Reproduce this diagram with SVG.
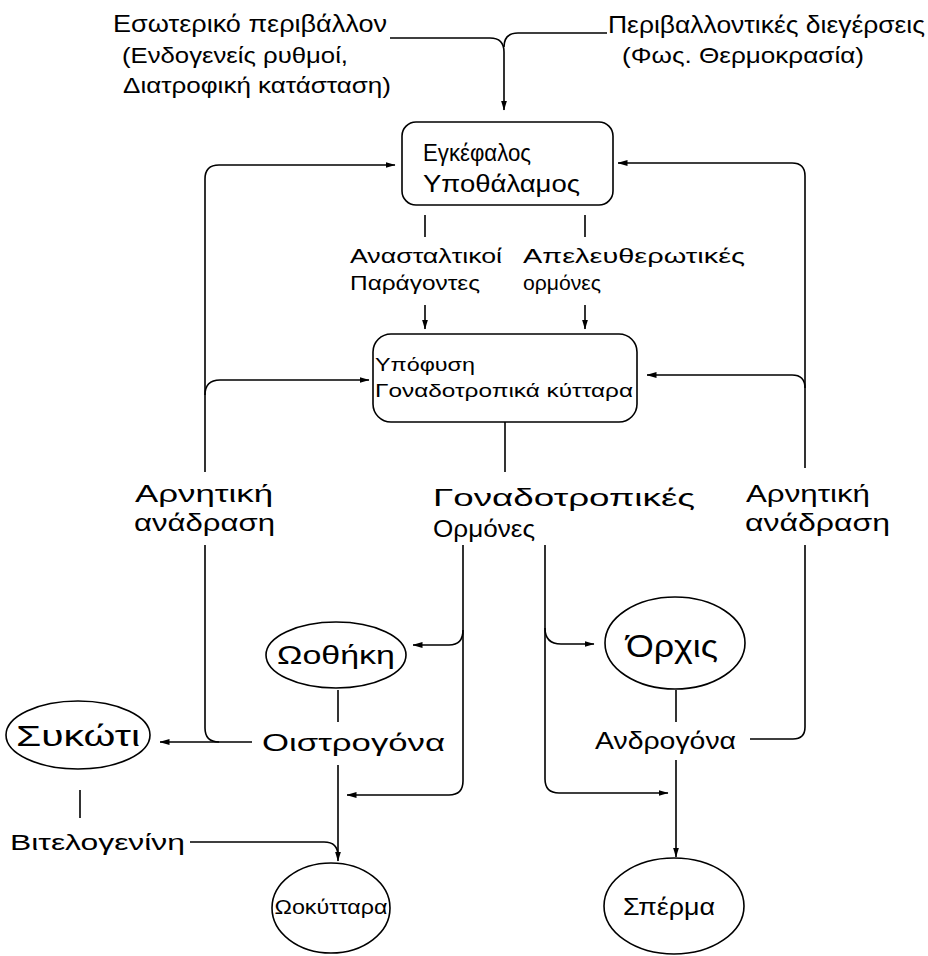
<svg xmlns="http://www.w3.org/2000/svg" width="928" height="956" viewBox="0 0 928 956">
<style>
text{font-family:"Liberation Sans","DejaVu Sans",sans-serif;fill:#000}
.t24{font-size:24px}
.t22{font-size:22px}
.t20{font-size:20px}
.t19{font-size:19px}
.node{fill:#fff;stroke:#000;stroke-width:1.6}
.c{fill:none;stroke:#000;stroke-width:1.6}
</style>
<defs>
<marker id="ah" markerWidth="10" markerHeight="8" refX="9.5" refY="4" orient="auto" markerUnits="userSpaceOnUse"><path d="M0,1 L10,4 L0,7 z" fill="#000"/></marker>
</defs>
<g id="connectors">
<path class="c" d="M390,38 L490,38 Q504,38 504,52 L504,110" marker-end="url(#ah)"/>
<path class="c" d="M607,33 L518,33 Q504,33 504,47"/>
<path class="c" d="M205,472 L205,179 Q205,165 219,165 L395,165" marker-end="url(#ah)"/>
<path class="c" d="M205,395 Q205,380 220,380 L369,380" marker-end="url(#ah)"/>
<path class="c" d="M205,545 L205,728 Q205,742 219,742"/>
<path class="c" d="M252,742 L160,742" marker-end="url(#ah)"/>
<path class="c" d="M805,468 L805,176 Q805,163 792,163 L618,163" marker-end="url(#ah)"/>
<path class="c" d="M805,388 Q805,375 792,375 L647,375" marker-end="url(#ah)"/>
<path class="c" d="M750,739 L793,739 Q805,739 805,727 L805,545"/>
<path class="c" d="M425,215 L425,237 M585,215 L585,237"/>
<path class="c" d="M425,305 L425,329" marker-end="url(#ah)"/>
<path class="c" d="M585,305 L585,329" marker-end="url(#ah)"/>
<path class="c" d="M505,422 L505,472"/>
<path class="c" d="M463,545 L463,781 Q463,795 449,795 L347,795" marker-end="url(#ah)"/>
<path class="c" d="M463,630 Q463,645 449,645 L413,645" marker-end="url(#ah)"/>
<path class="c" d="M545,545 L545,779 Q545,793 559,793 L668,793" marker-end="url(#ah)"/>
<path class="c" d="M545,628 Q545,644 561,644 L594,644" marker-end="url(#ah)"/>
<path class="c" d="M338,690 L338,722"/>
<path class="c" d="M338,765 L338,861" marker-end="url(#ah)"/>
<path class="c" d="M190,842 L324,842 Q338,842 338,856"/>
<path class="c" d="M676,690 L676,722"/>
<path class="c" d="M676,760 L676,857" marker-end="url(#ah)"/>
<path class="c" d="M80,790 L80,818"/>
</g>
<g id="env-internal">
<text class="t24" x="113" y="32" textLength="274" lengthAdjust="spacingAndGlyphs">Εσωτερικό περιβάλλον</text>
<text class="t22" x="122" y="63" textLength="226" lengthAdjust="spacingAndGlyphs">(Ενδογενείς ρυθμοί,</text>
<text class="t22" x="123" y="93" textLength="268" lengthAdjust="spacingAndGlyphs">Διατροφική κατάσταση)</text>
</g>
<g id="env-external">
<text class="t24" x="608" y="33" textLength="317" lengthAdjust="spacingAndGlyphs">Περιβαλλοντικές διεγέρσεις</text>
<text class="t22" x="622" y="63" textLength="242" lengthAdjust="spacingAndGlyphs">(Φως. Θερμοκρασία)</text>
</g>
<g id="brain">
<rect class="node" x="402" y="122" width="211" height="83" rx="14"/>
<text x="423" y="161" font-size="24" textLength="108" lengthAdjust="spacingAndGlyphs">Εγκέφαλος</text>
<text x="423" y="192" font-size="24" textLength="157" lengthAdjust="spacingAndGlyphs">Υποθάλαμος</text>
</g>
<g id="inhibitory">
<text class="t20" x="350" y="263" textLength="152" lengthAdjust="spacingAndGlyphs">Ανασταλτικοί</text>
<text class="t20" x="350" y="290" textLength="130" lengthAdjust="spacingAndGlyphs">Παράγοντες</text>
</g>
<g id="releasing">
<text class="t20" x="523" y="263" textLength="222" lengthAdjust="spacingAndGlyphs">Απελευθερωτικές</text>
<text class="t20" x="523" y="290" textLength="78" lengthAdjust="spacingAndGlyphs">ορμόνες</text>
</g>
<g id="pituitary">
<rect class="node" x="373" y="334" width="264" height="88" rx="18"/>
<text class="t19" x="375" y="371" textLength="100" lengthAdjust="spacingAndGlyphs">Υπόφυση</text>
<text class="t19" x="375" y="397" textLength="258" lengthAdjust="spacingAndGlyphs">Γοναδοτροπικά κύτταρα</text>
</g>
<g id="feedback-left">
<text class="t24" x="135" y="502" textLength="138" lengthAdjust="spacingAndGlyphs">Αρνητική</text>
<text class="t24" x="134" y="531" textLength="141" lengthAdjust="spacingAndGlyphs">ανάδραση</text>
</g>
<g id="gonadotropins">
<text class="t24" x="433" y="506" textLength="262" lengthAdjust="spacingAndGlyphs">Γοναδοτροπικές</text>
<text class="t24" x="433" y="537" textLength="102" lengthAdjust="spacingAndGlyphs">Ορμόνες</text>
</g>
<g id="feedback-right">
<text class="t24" x="746" y="502" textLength="124" lengthAdjust="spacingAndGlyphs">Αρνητική</text>
<text class="t24" x="745" y="531" textLength="145" lengthAdjust="spacingAndGlyphs">ανάδραση</text>
</g>
<g id="ovary">
<ellipse class="node" cx="336" cy="655" rx="70" ry="33"/>
<text x="336" y="664" font-size="26" text-anchor="middle" textLength="118" lengthAdjust="spacingAndGlyphs">Ωοθήκη</text>
</g>
<g id="testis">
<ellipse class="node" cx="675" cy="643" rx="70" ry="46"/>
<text x="672" y="657" font-size="32" text-anchor="middle" textLength="92" lengthAdjust="spacingAndGlyphs">Όρχις</text>
</g>
<g id="liver">
<ellipse class="node" cx="78" cy="735" rx="72" ry="34"/>
<text x="78" y="746" font-size="30" text-anchor="middle" textLength="124" lengthAdjust="spacingAndGlyphs">Συκώτι</text>
</g>
<g id="estrogens">
<text class="t24" x="262" y="751" textLength="183" lengthAdjust="spacingAndGlyphs">Οιστρογόνα</text>
</g>
<g id="androgens">
<text class="t24" x="595" y="749" textLength="141" lengthAdjust="spacingAndGlyphs">Ανδρογόνα</text>
</g>
<g id="vitellogenin">
<text class="t22" x="10" y="850" textLength="175" lengthAdjust="spacingAndGlyphs">Βιτελογενίνη</text>
</g>
<g id="oocytes">
<ellipse class="node" cx="331" cy="908" rx="59" ry="45"/>
<text x="331" y="914" font-size="20" text-anchor="middle" textLength="113" lengthAdjust="spacingAndGlyphs">Ωοκύτταρα</text>
</g>
<g id="sperm">
<ellipse class="node" cx="674" cy="906" rx="70" ry="48"/>
<text class="t24" x="669" y="915" text-anchor="middle" textLength="92" lengthAdjust="spacingAndGlyphs">Σπέρμα</text>
</g>
</svg>
